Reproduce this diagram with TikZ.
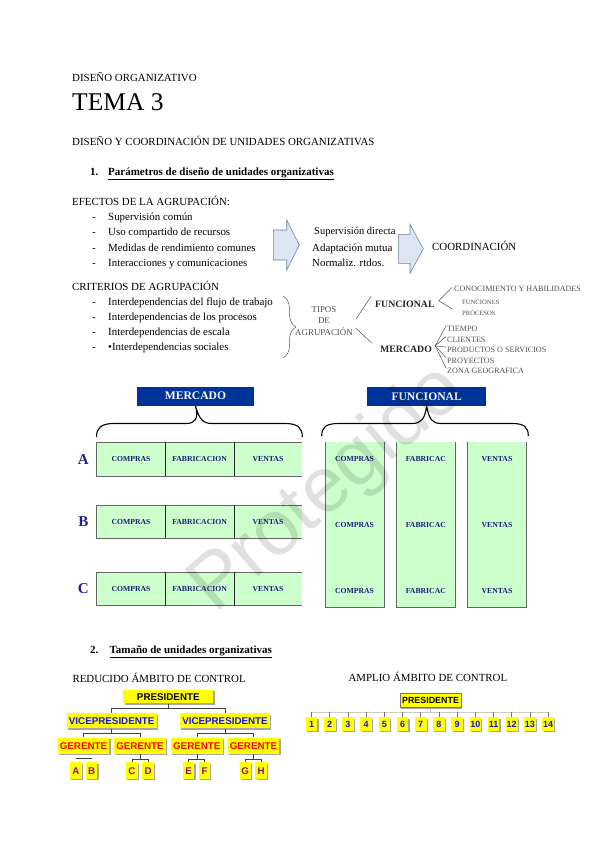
\documentclass[tikz,border=0pt]{standalone}
\usepackage{fontspec}
\setmainfont{Liberation Serif}
\newfontfamily\arialf{Liberation Sans}
\usetikzlibrary{decorations.pathreplacing,calc,shadows}
\newcommand{\setfs}[1]{\fontsize{#1}{#1}\selectfont}
\definecolor{hdrblue}{RGB}{0,51,153}
\definecolor{cellgreen}{RGB}{204,255,204}
\definecolor{navy}{RGB}{30,30,120}
\definecolor{labblue}{RGB}{30,30,150}
\definecolor{arrowfill}{RGB}{220,230,242}
\definecolor{arrowline}{RGB}{110,130,165}
\definecolor{orgyellow}{RGB}{255,255,0}
\definecolor{vpblue}{RGB}{20,20,235}
\definecolor{leafpurple}{RGB}{140,20,110}
\definecolor{numblue}{RGB}{20,20,200}
\definecolor{grtext}{RGB}{80,80,80}
\begin{document}
\begin{tikzpicture}[x=1pt,y=-1pt,
  body/.style={font=\setfs{10.9}, anchor=base west, inner sep=0pt},
  bodyb/.style={font=\bfseries\setfs{11}, anchor=base west, inner sep=0pt},
  dashb/.style={font=\setfs{10.9}, anchor=base west, inner sep=0pt},
  blockarrow/.style={fill=arrowfill, draw=arrowline, line width=0.6pt, line join=miter},
  tipos/.style={font=\setfs{8.9}, text=grtext, inner sep=0pt, anchor=base},
  subit/.style={font=\setfs{8.1}, text=grtext, inner sep=0pt, anchor=base west},
  subsm/.style={font=\setfs{6.6}, text=grtext, inner sep=0pt, anchor=base west},
  kind/.style={font=\bfseries\setfs{9.8}, text=black!85, inner sep=0pt, anchor=base west},
  thinln/.style={draw=grtext, line width=0.5pt},
  hdr/.style={fill=hdrblue, text=white, font=\bfseries\setfs{11.6}, inner sep=0pt},
  cell/.style={font=\bfseries\setfs{7.7}, text=navy, inner sep=0pt},
  rowlab/.style={font=\bfseries\setfs{15}, text=labblue, inner sep=0pt},
  rowline/.style={draw=black!60, line width=0.7pt},
  divline/.style={draw=black!85, line width=0.7pt},
  bracestyle/.style={draw=black, line width=1.1pt},
  orgbox/.style={fill=orgyellow, inner sep=0pt, font=\arialf\bfseries\setfs{9.8},
     drop shadow={shadow xshift=1.2pt, shadow yshift=-1.2pt, fill=black!35, opacity=1}},
  numbox/.style={orgbox, minimum width=11.6pt, minimum height=13.4pt, text=numblue, font=\arialf\bfseries\setfs{9}},
  orgln/.style={draw=black!75, line width=0.6pt}
]
\fill[white] (0,0) rectangle (600,848);
\useasboundingbox (0,0) rectangle (600,848);

% ---------- header texts
\node[body] (t1) at (72,81.5) {DISEÑO ORGANIZATIVO};
\node[body, font=\setfs{25.5}] (t2) at (72,111) {TEMA 3};
\node[body] (t3) at (72,145) {DISEÑO Y COORDINACIÓN DE UNIDADES ORGANIZATIVAS};
\node[bodyb] (s1n) at (90,175) {1.};
\node[bodyb] (s1) at (108,175) {\underline{Parámetros de diseño de unidades organizativas}};

% ---------- efectos
\node[body] (ef) at (72,205) {EFECTOS DE LA AGRUPACIÓN:};
\foreach \i/\yy/\tx in {1/220/Supervisión común, 2/235.5/Uso compartido de recursos,
   3/251/Medidas de rendimiento comunes, 4/266.5/Interacciones y comunicaciones} {
  \node[dashb] (efd\i) at (92,\yy) {-};
  \node[body] (efi\i) at (108,\yy) {\tx};
}
\draw[blockarrow] (273.3,230) -- (286.7,230) -- (286.7,220) -- (299.3,245) -- (286.7,270) -- (286.7,260) -- (273.3,260) -- cycle;
\node[body, font=\setfs{10.5}] (m1) at (314,234.5) {Supervisión directa};
\node[body] (m2) at (312,251) {Adaptación mutua};
\node[body] (m3) at (312,266.5) {Normaliz. rtdos.};
\draw[blockarrow] (398.3,234.3) -- (410,234.3) -- (410,224.3) -- (423.3,248.8) -- (410,273.3) -- (410,263.3) -- (398.3,263.3) -- cycle;
\node[body] (coord) at (432,250) {COORDINACIÓN};

% ---------- criterios
\node[body] (cr) at (72,290.5) {CRITERIOS DE AGRUPACIÓN};
\foreach \i/\yy/\tx in {1/305/Interdependencias del flujo de trabajo, 2/320/Interdependencias de los procesos,
   3/335/Interdependencias de escala, 4/350.5/•Interdependencias sociales} {
  \node[dashb] (crd\i) at (92,\yy) {-};
  \node[body] (cri\i) at (108,\yy) {\tx};
}
\draw[decorate, decoration={brace, amplitude=13pt, aspect=0.5}, draw=grtext, line width=0.5pt] (283,296) -- (283,358);
\node[tipos] (tp1) at (324,312) {TIPOS};
\node[tipos] (tp2) at (324,323.5) {DE};
\node[tipos] (tp3) at (324,335) {AGRUPACIÓN};
\node[kind] (fun) at (375,307.5) {FUNCIONAL};
\node[kind] (mer) at (380,352.5) {MERCADO};
\draw[thinln] ($(tp3.east)+(3,-12)$) -- ($(fun.west)+(-4,-8)$);
\draw[thinln] ($(tp3.east)+(3,-3)$) -- ($(mer.west)+(-8,-6)$);
% funcional sub-items
\node[subit] (f1) at (454,291) {CONOCIMIENTO Y HABILIDADES};
\node[subsm] (f2) at (462,304.5) {FUNCIONES};
\node[subsm] (f3) at (462,315) {PROCESOS};
\coordinate (fv) at ($(fun.east)+(4,-3.5)$);
\draw[thinln] ($(f1.west)+(-2,-1)$) -- (fv) -- ($(f3.west)+(-10,-4)$);
% mercado sub-items
\node[subit] (g1) at (447,331.5) {TIEMPO};
\node[subit] (g2) at (447,342) {CLIENTES};
\node[subit] (g3) at (447,352.5) {PRODUCTOS O SERVICIOS};
\node[subit] (g4) at (447,363) {PROYECTOS};
\node[subit] (g5) at (447,373.5) {ZONA GEOGRAFICA};
\coordinate (mv) at ($(mer.east)+(3,-3.5)$);
\foreach \k in {1,...,5} { \draw[thinln] (mv) -- ($(g\k.west)+(-1,-2.8)$); }

% ---------- mercado table
\node[hdr, minimum width=117.6pt, minimum height=19pt] (hm) at (195.5,396.2) {MERCADO};
\node[hdr, minimum width=118.7pt, minimum height=18.7pt] (hf) at (426.65,396.35) {FUNCIONAL};
\draw[bracestyle] (96.5,437) .. controls (96.5,428) and (101,423.5) .. (114,423.5) -- (186,423.5) .. controls (195,423.5) and (199,419) .. (hm.south) .. controls (199,419) and (203,423.5) .. (212,423.5) -- (285,423.5) .. controls (298,423.5) and (302.3,428) .. (302.3,437);
\draw[bracestyle] (321.7,436) .. controls (321.7,427) and (326,423.5) .. (339,423.5) -- (412,423.5) .. controls (421,423.5) and (425,419) .. (hf.south) .. controls (429,419) and (432,423.5) .. (441,423.5) -- (512,423.5) .. controls (524,423.5) and (528.3,427) .. (528.3,436);

\foreach \r/\ya/\yb in {A/442.3/476, B/505/538.3, C/572.3/605.7} {
  \fill[cellgreen] (96.7,\ya) rectangle (302.3,\yb);
  \draw[rowline] (302.3,\ya) -- (96.7,\ya) -- (96.7,\yb) -- (302.3,\yb);
  \draw[divline] (165.3,\ya) -- (165.3,\yb) (234,\ya) -- (234,\yb);
  \node[cell] (cp\r) at (131,{(\ya+\yb)/2}) {COMPRAS};
  \node[cell] (fb\r) at (199.6,{(\ya+\yb)/2}) {FABRICACION};
  \node[cell] (vt\r) at (268,{(\ya+\yb)/2}) {VENTAS};
  \node[rowlab] (lab\r) at (83.3,{(\ya+\yb)/2}) {\r};
}
% funcional columns
\foreach \c/\xa/\xb/\tx in {1/325/384/COMPRAS, 2/396/455.7/FABRICAC, 3/467.3/526.7/VENTAS} {
  \fill[cellgreen] (\xa,442) rectangle (\xb,607.7);
  \draw[rowline] (\xa,442) -- (\xa,607.7) -- (\xb,607.7) -- (\xb,442);
  \node[cell] (fc\c a) at ({(\xa+\xb)/2},459.3) {\tx};
  \node[cell] (fc\c b) at ({(\xa+\xb)/2},525) {\tx};
  \node[cell] (fc\c c) at ({(\xa+\xb)/2},590.7) {\tx};
}

% ---------- section 2
\node[bodyb] (s2n) at (90,653.3) {2.};
\node[bodyb] (s2) at (109.3,653.3) {\underline{Tamaño de unidades organizativas}};
\node[body, font=\setfs{10.9}] (red) at (72.3,682.7) {REDUCIDO ÁMBITO DE CONTROL};
\node[body, font=\setfs{10.9}] (amp) at (348.3,681.7) {AMPLIO ÁMBITO DE CONTROL};

% reduced span chart
\node[orgbox, minimum width=90pt, minimum height=13.3pt, text=black] (pres) at (168.3,696.7) {PRESIDENTE};
\node[orgbox, minimum width=90pt, minimum height=15pt, text=vpblue] (vp1) at (111.7,720.8) {VICEPRESIDENTE};
\node[orgbox, minimum width=90pt, minimum height=15pt, text=vpblue] (vp2) at (225,720.8) {VICEPRESIDENTE};
\foreach \g/\xx in {1/83.5, 2/140, 3/196.8, 4/253.5} {
  \node[orgbox, minimum width=51.6pt, minimum height=16.3pt, text=red] (ger\g) at (\xx,745.8) {GERENTE};
}
\foreach \l/\xx in {A/75.8, B/91.7, C/132, D/148.2, E/188.7, F/204.5, G/245.3, H/261.2} {
  \node[orgbox, minimum width=11.5pt, minimum height=16.7pt, text=leafpurple] (lf\l) at (\xx,770.7) {\l};
}
\draw[orgln] (pres.south) -- ++(0,4.8) -| (vp1.north);
\draw[orgln] (pres.south) -- ++(0,4.8) -| (vp2.north);
\draw[orgln] (vp1.south) -- ++(0,5) -| (ger1.north);
\draw[orgln] (vp1.south) -- ++(0,5) -| (ger2.north);
\draw[orgln] (vp2.south) -- ++(0,5) -| (ger3.north);
\draw[orgln] (vp2.south) -- ++(0,5) -| (ger4.north);
\draw[orgln] ($(lfA.north)+(0,-3.6)$) -- ($(lfB.north)+(0,-3.6)$);
\draw[orgln] (ger2.south) -- ++(0,4.8) -| (lfC.north);
\draw[orgln] (ger2.south) -- ++(0,4.8) -| (lfD.north);
\draw[orgln] (ger3.south) -- ++(0,4.8) -| (lfE.north);
\draw[orgln] (ger3.south) -- ++(0,4.8) -| (lfF.north);
\draw[orgln] (ger4.south) -- ++(0,4.8) -| (lfG.north);
\draw[orgln] (ger4.south) -- ++(0,4.8) -| (lfH.north);

% wide span chart
\node[orgbox, draw=black!55, line width=0.6pt, minimum width=61pt, minimum height=14pt, text=black, font=\arialf\bfseries\setfs{8.9}] (pres2) at (430.5,700.3) {PRESIDENTE};
\foreach \n in {1,...,14} {
  \node[numbox] (n\n) at ({311.5+(\n-1)*18.2},724) {\n};
}
\draw[draw=black!20, line width=0.6pt] ($(n1.north)+(0,-5.3)$) -- ($(n14.north)+(0,-5.3)$);
\draw[draw=black!25, line width=0.6pt] (pres2.south) -- ++(0,5);
\foreach \n in {1,...,14} {
  \draw[draw=black!55, line width=0.6pt] (n\n.north) -- ++(0,-5.3);
}

% ---------- watermark
\node[rotate=41, font=\arialf\setfs{78}, text=black, opacity=0.12, inner sep=0pt] (wm) at (328,490) {Protegido};
\end{tikzpicture}
\end{document}
